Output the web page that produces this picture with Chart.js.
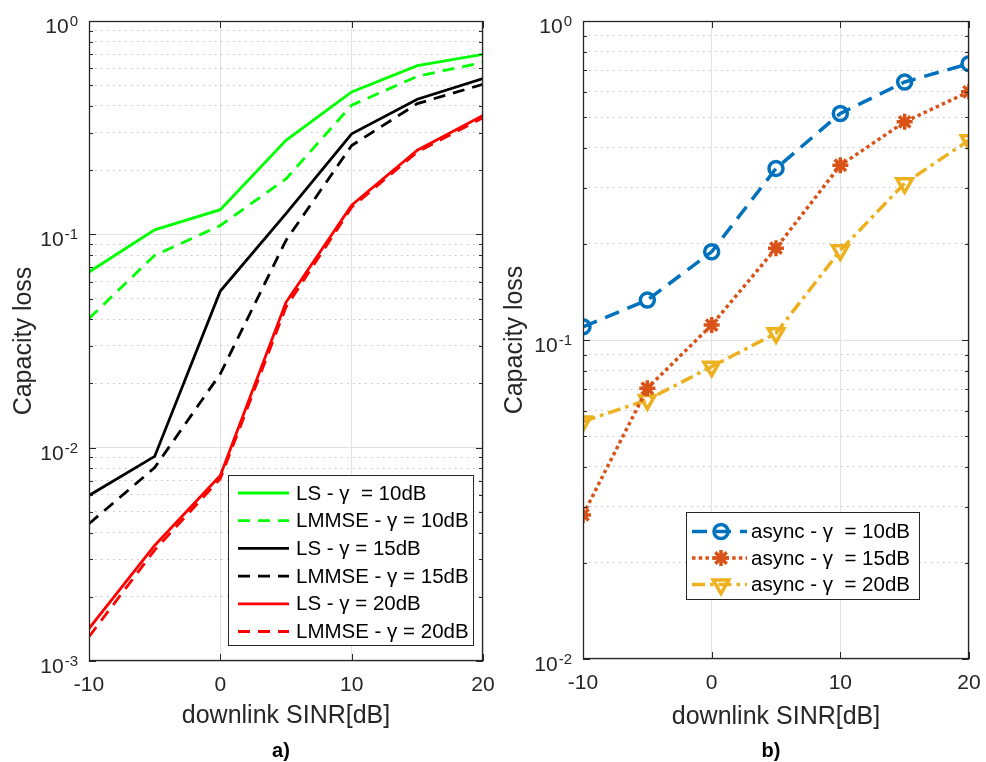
<!DOCTYPE html>
<html>
<head>
<meta charset="utf-8">
<script src="https://cdn.jsdelivr.net/npm/chart.js"></script>
<style>
  body { margin: 0; background: #fff; }
  #wrap { position: relative; width: 986px; height: 762px; font-family: "Liberation Sans", Arial, Helvetica, sans-serif; }
  .pane { position: absolute; top: 0; height: 762px; }
  .tag { position: absolute; top: 739px; font-weight: bold; font-size: 20px; line-height: 22px; color: #000; transform: translateX(-50%); }
</style>
</head>
<body>
<div id="wrap">
  <div class="pane" style="left:493px;width:493px"><canvas id="chartB" width="493" height="762"></canvas></div>
  <div class="pane" style="left:0;width:503px"><canvas id="chartA" width="503" height="762"></canvas></div>
  <div class="tag" style="left:281px">a)</div>
  <div class="tag" style="left:771px">b)</div>
</div>
<script>
// downlink SINR [dB] on both plots
const sinr = [-10, -5, 0, 5, 10, 15, 20];
const xTicks = [-10, 0, 10, 20];
const decadesA = [-3, -2, -1, 0];
const decadesB = [-2, -1, 0];

// a) capacity loss, LS vs LMMSE
const lsG10 = [0.0666, 0.105, 0.1305, 0.276, 0.465, 0.618, 0.698];
const lmmseG10 = [0.0403, 0.0797, 0.110, 0.182, 0.403, 0.55, 0.64];
const lsG15 = [0.00597, 0.0091, 0.0542, 0.125, 0.296, 0.43, 0.537];
const lmmseG15 = [0.0044, 0.00806, 0.0222, 0.0937, 0.261, 0.41, 0.505];
const lsG20 = [0.00142, 0.00348, 0.00741, 0.048, 0.137, 0.248, 0.361];
const lmmseG20 = [0.0013, 0.00331, 0.00716, 0.0456, 0.134, 0.243, 0.352];

// b) capacity loss, async
const asyncG10 = [0.110, 0.1334, 0.189, 0.345, 0.513, 0.644, 0.735];
const asyncG15 = [0.0283, 0.0706, 0.1114, 0.194, 0.353, 0.483, 0.6];
const asyncG20 = [0.0555, 0.0649, 0.0825, 0.105, 0.191, 0.31, 0.423];

const labelsA = ["LS - γ  = 10dB", "LMMSE - γ = 10dB", "LS - γ = 15dB",
    "LMMSE - γ = 15dB", "LS - γ = 20dB", "LMMSE - γ = 20dB"];
const labelsB = ["async - γ  = 10dB", "async - γ  = 15dB", "async - γ  = 20dB"];

const axisGray = "#262626";
const family = '"Liberation Sans", Arial, Helvetica, sans-serif';

function points(vals) {
    return sinr.map((s, i) => ({ x: s, y: vals[i] }));
}

function logTicks(decades) {
    const ticks = [];
    for (let i = 0; i < decades.length; i++) {
        const base = Math.pow(10, decades[i]);
        ticks.push({ value: base, major: true });
        if (i < decades.length - 1) {
            for (let m = 2; m <= 9; m++) ticks.push({ value: m * base, major: false });
        }
    }
    return ticks;
}

// box, inward ticks and 10^n labels, matlab style
const matlabAxes = {
    id: "matlabAxes",
    afterDraw(chart, args, opts) {
        const { ctx, chartArea: a, scales: { x, y } } = chart;
        ctx.save();
        ctx.strokeStyle = axisGray;
        ctx.lineWidth = 1;
        ctx.setLineDash([]);
        ctx.beginPath();
        y.ticks.forEach(t => {
            const py = Math.round(y.getPixelForValue(t.value)) + 0.5;
            const len = t.major ? 7 : 4;
            ctx.moveTo(a.left, py); ctx.lineTo(a.left + len, py);
            ctx.moveTo(a.right, py); ctx.lineTo(a.right - len, py);
        });
        x.ticks.forEach(t => {
            const px = Math.round(x.getPixelForValue(t.value)) + 0.5;
            ctx.moveTo(px, a.bottom); ctx.lineTo(px, a.bottom - 7);
            ctx.moveTo(px, a.top); ctx.lineTo(px, a.top + 7);
        });
        ctx.stroke();
        ctx.lineWidth = 1.3;
        ctx.strokeRect(a.left + 0.5, a.top + 0.5, a.width - 1, a.height - 1);

        ctx.fillStyle = axisGray;
        ctx.textAlign = "left";
        ctx.textBaseline = "alphabetic";
        opts.decades.forEach(e => {
            const py = y.getPixelForValue(Math.pow(10, e));
            const ex = String(e);
            ctx.font = "15px " + family;
            const ew = ctx.measureText(ex).width;
            ctx.font = "21px " + family;
            const bw = ctx.measureText("10").width;
            const right = a.left - 11;
            ctx.fillText("10", right - ew - bw - 1, py + 12);
            ctx.font = "15px " + family;
            ctx.fillText(ex, right - ew, py + 5);
        });
        ctx.restore();
    }
};

// legend inside the axes with line samples
const insideLegend = {
    id: "insideLegend",
    afterDraw(chart, args, o) {
        const ctx = chart.ctx;
        ctx.save();
        ctx.fillStyle = "#fff";
        ctx.fillRect(o.left, o.top, o.width, o.height);
        ctx.strokeStyle = axisGray;
        ctx.lineWidth = 1;
        ctx.strokeRect(o.left + 0.5, o.top + 0.5, o.width, o.height);
        chart.data.datasets.forEach((ds, i) => {
            const cy = o.rowTop + i * o.rowGap;
            ctx.strokeStyle = ds.borderColor;
            ctx.lineWidth = ds.borderWidth;
            ctx.setLineDash(ds.borderDash || []);
            ctx.beginPath();
            ctx.moveTo(o.sampleLeft, cy);
            ctx.lineTo(o.sampleRight, cy);
            ctx.stroke();
            ctx.setLineDash([]);
            if (ds.pointRadius > 0) {
                ctx.fillStyle = "rgba(0,0,0,0)";
                ctx.strokeStyle = ds.pointBorderColor;
                ctx.lineWidth = ds.pointBorderWidth;
                Chart.helpers.drawPoint(ctx, {
                    pointStyle: ds.pointStyle,
                    radius: ds.pointRadius,
                    rotation: ds.pointRotation || 0,
                    borderWidth: ds.pointBorderWidth
                }, o.markerX, cy);
            }
            ctx.fillStyle = "#000";
            ctx.font = "20.5px " + family;
            ctx.textAlign = "left";
            ctx.textBaseline = "middle";
            ctx.fillText(ds.label, o.textLeft, cy + 1);
        });
        ctx.restore();
    }
};

function axesOptions(decades, yWidth, xHeight, yTitlePad, xTitlePad) {
    return {
        x: {
            type: "linear", min: -10, max: 20,
            afterBuildTicks: s => { s.ticks = xTicks.map(v => ({ value: v })); },
            afterFit: s => { s.height = xHeight; s.paddingLeft = 0; s.paddingRight = 0; },
            grid: { color: "#e2e2e2", lineWidth: 1, drawTicks: false },
            border: { display: false },
            ticks: { font: { size: 21, family: family }, color: axisGray, padding: 12, maxRotation: 0, autoSkip: false },
            title: { display: true, text: "downlink SINR[dB]", font: { size: 25, family: family }, color: axisGray, padding: { bottom: xTitlePad } }
        },
        y: {
            type: "logarithmic",
            min: Math.pow(10, decades[0]), max: Math.pow(10, decades[decades.length - 1]),
            afterBuildTicks: s => { s.ticks = logTicks(decades); },
            afterFit: s => { s.width = yWidth; s.paddingTop = 0; s.paddingBottom = 0; },
            grid: {
                color: c => (c.tick && c.tick.major) ? "#e2e2e2" : "#c2c2c2",
                lineWidth: 1, drawTicks: false
            },
            border: { display: false, dash: c => (c.tick && !c.tick.major) ? [1.5, 4.5] : [] },
            ticks: { display: false },
            title: { display: true, text: "Capacity loss", font: { size: 25, family: family }, color: axisGray, padding: { top: yTitlePad } }
        }
    };
}

function lineSet(label, vals, color, dash) {
    return { label: label, data: points(vals), borderColor: color, borderWidth: 2.8,
        borderDash: dash, pointRadius: 0, tension: 0, fill: false };
}

new Chart(document.getElementById("chartA"), {
    type: "line",
    data: {
        datasets: [
            lineSet(labelsA[0], lsG10, "#00ff00", []),
            lineSet(labelsA[1], lmmseG10, "#00ff00", [12, 8]),
            lineSet(labelsA[2], lsG15, "#000000", []),
            lineSet(labelsA[3], lmmseG15, "#000000", [12, 8]),
            lineSet(labelsA[4], lsG20, "#ff0000", []),
            lineSet(labelsA[5], lmmseG20, "#ff0000", [12, 8])
        ]
    },
    options: {
        responsive: false, animation: false,
        layout: { padding: { left: 0, right: 20, top: 21, bottom: 0 } },
        plugins: {
            legend: { display: false }, tooltip: { enabled: false },
            matlabAxes: { decades: decadesA },
            insideLegend: { left: 228, top: 475, width: 245, height: 170, rowTop: 493, rowGap: 27.7,
                sampleLeft: 238, sampleRight: 289, markerX: 263, textLeft: 296 }
        },
        scales: axesOptions(decadesA, 89, 101, 9, 31)
    },
    plugins: [matlabAxes, insideLegend]
});

function markSet(label, vals, color, dash, style, radius, rotation) {
    return { label: label, data: points(vals), borderColor: color, borderWidth: 3.5,
        borderDash: dash, tension: 0, fill: false,
        pointStyle: style, pointRadius: radius, pointRotation: rotation,
        pointBorderColor: color, pointBorderWidth: 3.5, pointBackgroundColor: "rgba(0,0,0,0)" };
}

new Chart(document.getElementById("chartB"), {
    type: "line",
    data: {
        datasets: [
            markSet(labelsB[0], asyncG10, "#0072BD", [15, 9], "circle", 7, 0),
            markSet(labelsB[1], asyncG15, "#D95319", [3.5, 3.2], "star", 8, 0),
            markSet(labelsB[2], asyncG20, "#EDB120", [13, 5, 3.5, 5], "triangle", 9, 180)
        ]
    },
    options: {
        responsive: false, animation: false,
        layout: { padding: { left: 0, right: 17, top: 21, bottom: 0 } },
        plugins: {
            legend: { display: false }, tooltip: { enabled: false },
            matlabAxes: { decades: decadesB },
            insideLegend: { left: 193, top: 512, width: 233, height: 87, rowTop: 531.5, rowGap: 26.5,
                sampleLeft: 199, sampleRight: 254, markerX: 228, textLeft: 258 }
        },
        scales: axesOptions(decadesB, 90, 103, 7, 30)
    },
    plugins: [matlabAxes, insideLegend]
});
</script>
</body>
</html>
